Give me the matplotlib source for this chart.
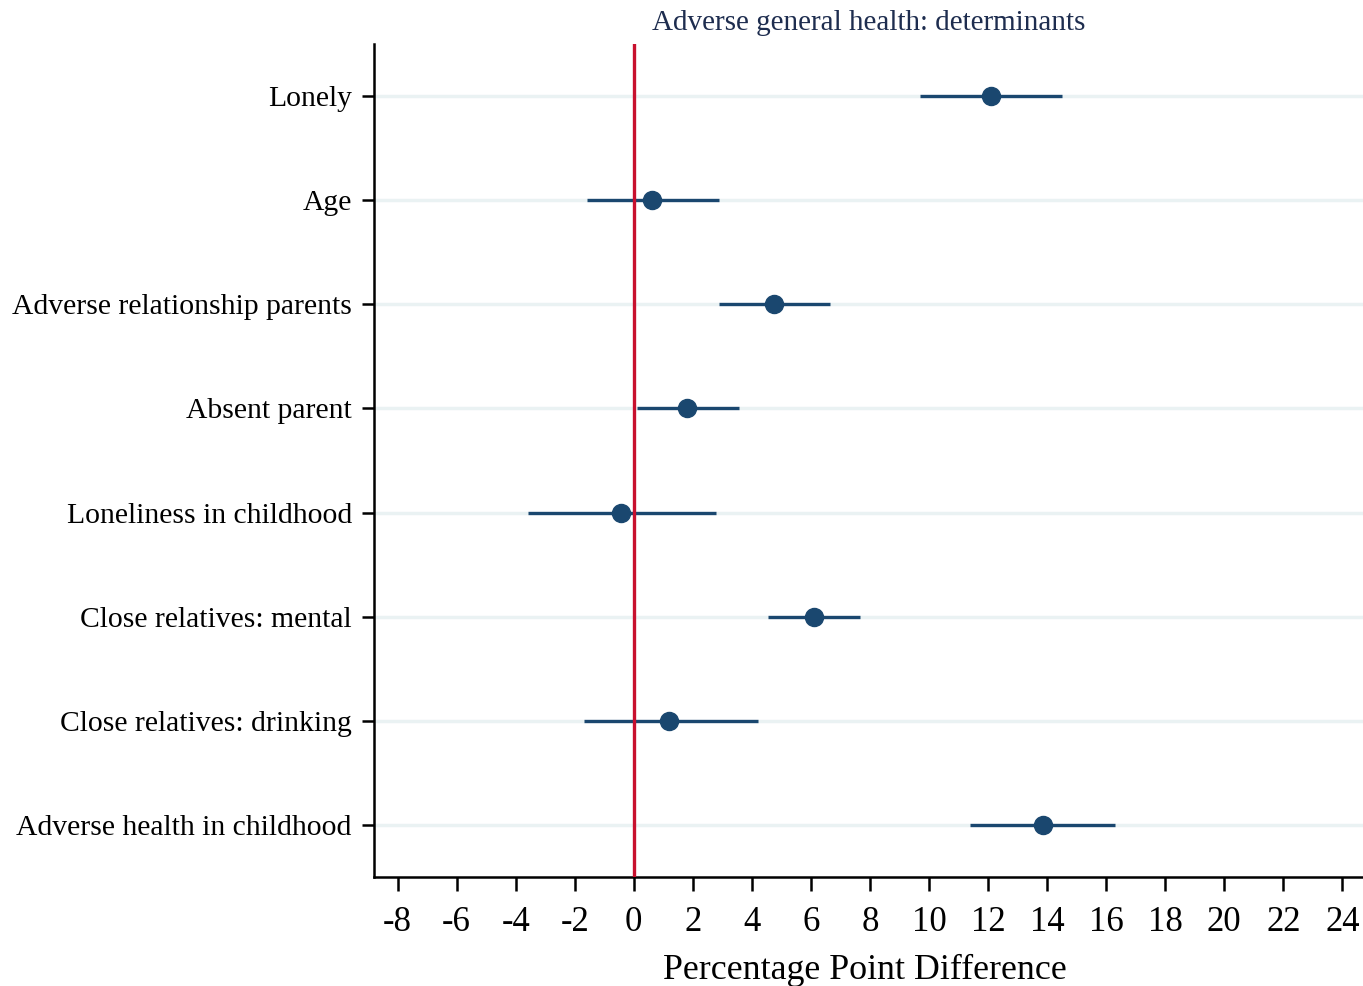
import numpy as np
import matplotlib.pyplot as plt

# data
labels = ['Lonely', 'Age', 'Adverse relationship parents', 'Absent parent',
          'Loneliness in childhood', 'Close relatives: mental',
          'Close relatives: drinking', 'Adverse health in childhood']
est = [12.1, 0.6, 4.75, 1.8, -0.45, 6.1, 1.2, 13.85]
lo = [9.7, -1.6, 2.9, 0.1, -3.6, 4.55, -1.7, 11.4]
hi = [14.5, 2.9, 6.65, 3.55, 2.8, 7.65, 4.2, 16.3]
xticks = list(range(-8, 25, 2))

navy = '#1a476f'
plt.rcParams['font.family'] = ['Liberation Serif', 'DejaVu Serif']
plt.rcParams['axes.unicode_minus'] = False

fig = plt.figure(figsize=(13.63, 9.86), dpi=100)
ax = fig.add_axes([0.2744, 0.1105, 0.7256, 0.8449])

y = np.arange(len(labels), 0, -1)
for yy in y:
    ax.axhline(yy, color='#eaf2f3', lw=2.5, zorder=0)

ax.hlines(y, lo, hi, color=navy, lw=2.4, zorder=2)
ax.axvline(0, color='#c8102e', lw=2.4, zorder=3)
ax.plot(est, y, 'o', color=navy, ms=13, zorder=4)

ax.set_xlim(-8.8, 24.7)
ax.set_ylim(0.5, len(labels) + 0.5)
ax.set_xticks(xticks)
ax.set_yticks(y)
ax.set_yticklabels(labels)

for s in ['top', 'right']:
    ax.spines[s].set_visible(False)
for s in ['left', 'bottom']:
    ax.spines[s].set_linewidth(1.8)

ax.tick_params(axis='x', labelsize=25, length=10, width=1.8, pad=11)
ax.tick_params(axis='y', labelsize=21.3, length=9, width=1.8, pad=7)

fig.text(0.6343, 1 - 979 / 986, 'Percentage Point Difference', fontsize=25.8,
         ha='center', va='baseline')
ax.set_title('Adverse general health: determinants', fontsize=21,
             color='#1e2d4f', pad=10)

fig.savefig('out.png', dpi=100)
